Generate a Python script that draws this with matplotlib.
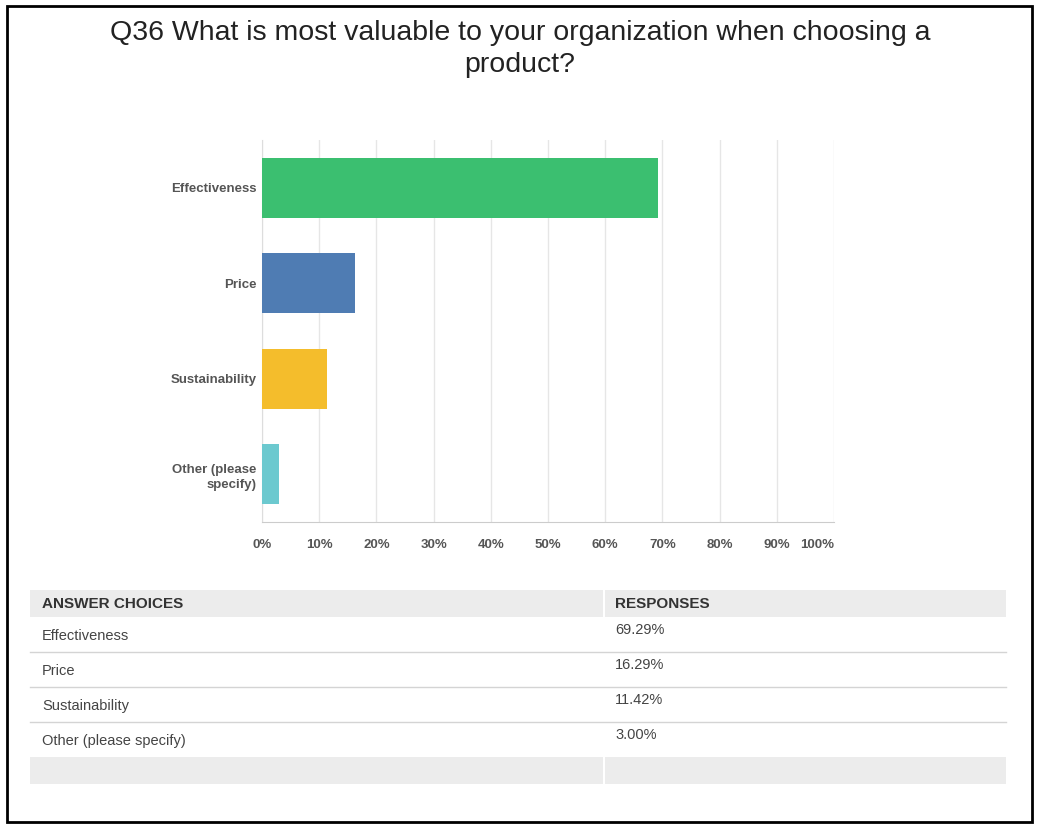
import matplotlib
matplotlib.use("Agg")
from matplotlib import pyplot as plt
from matplotlib.patches import Rectangle
from matplotlib.lines import Line2D

plt.rcParams['font.family'] = ['Liberation Sans', 'DejaVu Sans']

W, H = 1040, 830

title = "Q36 What is most valuable to your organization when choosing a\nproduct?"
categories = ["Effectiveness", "Price", "Sustainability", "Other (please\nspecify)"]
table_labels = ["Effectiveness", "Price", "Sustainability", "Other (please specify)"]
values = [69.29, 16.29, 11.42, 3.00]
colors = ["#3bbf70", "#4f7cb3", "#f4bd2c", "#6cc9cf"]
xticks = [0, 10, 20, 30, 40, 50, 60, 70, 80, 90, 100]


def fx(px):
    return px / W


def fy(py):
    return 1 - py / H


fig = plt.figure(figsize=(W / 100, H / 100), dpi=100)

# outer frame
fig.patches.append(Rectangle((fx(7), fy(822)), fx(1032) - fx(7), fy(6) - fy(822),
                             transform=fig.transFigure, fill=False, edgecolor='black', lw=2))

fig.text(0.5, fy(49), title, ha='center', va='center', fontsize=20.5, color='#222222',
         linespacing=1.3)

# bar chart
ax = fig.add_axes([fx(262), fy(522), fx(834) - fx(262), fy(140) - fy(522)])
ypos = list(range(len(categories)))
ax.barh(ypos, values, height=0.63, color=colors, zorder=3)
ax.set_xlim(0, 100)
ax.set_ylim(3.5, -0.5)
ax.set_xticks(xticks)
ax.set_xticklabels([f"{t}%" for t in xticks], fontsize=9.5, fontweight='semibold', color='#555555')
for lab in ax.get_xticklabels()[-1:]:
    lab.set_horizontalalignment('right')
    lab.set_x(100)
ax.set_yticks(ypos)
ax.set_yticklabels(categories, fontsize=9.5, fontweight='bold', color='#555555', linespacing=1.4)
ax.tick_params(axis='both', length=0, pad=12)
ax.tick_params(axis='y', pad=4)
ax.grid(axis='x', color='#e6e6e6', lw=1, zorder=0)
for s in ['top', 'right']:
    ax.spines[s].set_visible(False)
ax.spines['bottom'].set_color('#cccccc')
ax.spines['left'].set_color('#dddddd')

# answer table
x0, xm, x1 = 30, 604, 1006
row_edges = [590, 617, 652, 687, 722, 757, 784]
grey = '#ececec'


def rect(px0, py0, px1, py1, color):
    fig.patches.append(Rectangle((fx(px0), fy(py1)), fx(px1) - fx(px0), fy(py0) - fy(py1),
                                 transform=fig.transFigure, color=color, lw=0))


rect(x0, row_edges[0], xm - 1, row_edges[1], grey)
rect(xm + 1, row_edges[0], x1, row_edges[1], grey)
rect(x0, row_edges[-2], xm - 1, row_edges[-1], grey)
rect(xm + 1, row_edges[-2], x1, row_edges[-1], grey)

fig.text(fx(42), fy(604), "ANSWER CHOICES", fontsize=11, fontweight='bold', color='#333333', va='center')
fig.text(fx(615), fy(604), "RESPONSES", fontsize=11, fontweight='bold', color='#333333', va='center')

for i, (lab, v) in enumerate(zip(table_labels, values)):
    top, bot = row_edges[i + 1], row_edges[i + 2]
    fig.text(fx(42), fy(top + 19), lab, fontsize=10.5, color='#444444', va='center')
    fig.text(fx(615), fy(top + 13), f"{v:.2f}%", fontsize=10.5, color='#444444', va='center')
    if i < len(values) - 1:
        fig.lines.append(Line2D([fx(x0), fx(x1)], [fy(bot), fy(bot)], transform=fig.transFigure,
                                color='#d4d4d4', lw=1))

fig.savefig("out.png", dpi=100)
